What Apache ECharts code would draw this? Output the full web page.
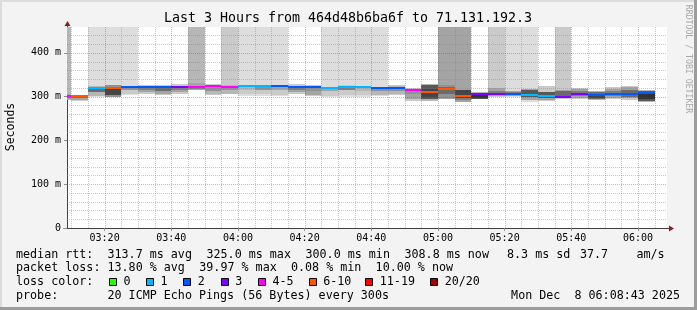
<!DOCTYPE html>
<html><head><meta charset="utf-8">
<script src="https://cdn.jsdelivr.net/npm/echarts@6/dist/echarts.min.js"></script>
<style>html,body{margin:0;padding:0;background:#f3f3f3;overflow:hidden}#c{width:697px;height:310px}</style>
</head><body><div id="c"></div>
<script>
// ---------- data ----------
const windowStart = "03:08:43";
const windowEnd   = "06:08:43";
const stepSeconds = 300;
const colTimes = ["03:05","03:10","03:15","03:20","03:25","03:30","03:35","03:40","03:45","03:50",
  "03:55","04:00","04:05","04:10","04:15","04:20","04:25","04:30","04:35","04:40",
  "04:45","04:50","04:55","05:00","05:05","05:10","05:15","05:20","05:25","05:30",
  "05:35","05:40","05:45","05:50","05:55","06:00"];
const medianMs = [301,301,320,320,321,323,321,323,323,325,
  323,324,324,325,321,321,320,322,321,319,
  319,314,311,318,302,306,306,307,304,302,
  300,307,303,307,306,309];
const lostPings = [4,7,1,6,2,2,2,3,4,5,
  4,1,1,2,2,2,1,1,1,2,
  2,4,6,7,8,3,3,2,1,1,
  3,3,2,2,2,2];
// smoke bands (ms); 480 = pings above the top of the graph; rank = smoke layer (1 outermost .. 10 innermost)
const outerLo = [293,289,300,299,304,307,303,307,314,304,305,301,301,301,307,301,300,300,300,301,304,290,291,295,287,294,299,299,288,291,295,295,292,295,293,288];
const outerHi = [480,302,480,480,480,327,327,328,480,328,480,480,480,480,328,326,480,480,480,480,327,320,328,480,480,311,480,480,480,325,480,320,313,321,325,316];
const outerRank = [3,2,1,1,1,2,2,2,3,2,2,1,1,1,2,2,1,1,1,1,2,2,3,4,4,3,2,1,1,2,2,2,3,2,2,3];
const midLo = [295,292,301,300,306,310,306,310,315,307,307,305,306,304,310,303,302,303,303,304,307,294,294,297,292,295,301,301,292,293,297,297,294,297,296,291];
const midHi = [306,300,325,326,325,324,324,325,330,326,326,326,326,326,324,323,322,326,323,322,324,318,326,327,316,309,319,312,318,311,316,317,310,318,322,313];
const midRank = [4,4,3,5,2,4,4,4,4,3,3,2,2,2,4,4,2,2,2,3,3,4,8,5,6,8,4,4,4,4,4,4,7,4,4,8];
const innerLo = [298,296,311,303,314,316,313,316,318,313,314,315,316,314,316,312,313,314,313,312,313,305,300,305,298,296,303,304,300,297,299,301,297,301,300,294];
const innerHi = [303,300,322,320,322,323,322,323,325,325,324,324,324,325,322,321,321,323,322,320,320,315,318,322,314,306,312,310,316,310,312,313,307,313,316,310];
const innerRank = [6,6,7,9,5,6,7,6,6,5,5,3,5,4,6,5,4,6,3,5,5,5,9,7,9,10,6,6,8,8,7,6,9,6,7,10];
const xLabelTimes = ["03:20","03:40","04:00","04:20","04:40","05:00","05:20","05:40","06:00"];
const yLabelValues = [0,100,200,300,400];
const lossLabels = ["0","1","2","3","4-5","6-10","11-19","20/20"];
const lossUpper  = [0,1,2,3,5,10,19,20];

// ---------- styles ----------
const lossColors = ['#26ff00','#00b8ff','#0059ff','#7e00ff','#ff00ff','#ff5500','#ff0000','#a10000'];
const MONO = "'DejaVu Sans Mono', monospace";
const Y_MAX = 459;

function toSec(s){const p=s.split(':').map(Number);return p[0]*3600+p[1]*60+(p[2]||0);}
function fmtHM(v){const h=Math.floor(v/3600),m=Math.round((v%3600)/60);return String(h).padStart(2,'0')+':'+String(m).padStart(2,'0');}
function lossColor(n){for(let i=0;i<lossUpper.length;i++){if(n<=lossUpper[i])return lossColors[i];}return lossColors[lossColors.length-1];}
function rankGray(r){const g=Math.round(190/10*(10-r)+50);return 'rgb('+g+','+g+','+g+')';}

const X0 = toSec(windowStart), X1 = toSec(windowEnd);
const colSecs = colTimes.map(toSec);
const xLabelSecs = xLabelTimes.map(toSec);

const smokeData = colSecs.map((t,i)=>[t, t+stepSeconds, outerLo[i], outerHi[i], outerRank[i], midLo[i], midHi[i], midRank[i], innerLo[i], innerHi[i], innerRank[i]]);
const medianData = colSecs.map((t,i)=>[t, t+stepSeconds, medianMs[i], lostPings[i]]);

// grid lines (5 min / 20 min, 20 ms / 100 ms)
const gridData = [];
for (let t = toSec("03:10"); t < X1; t += 300) gridData.push([0, t, (t % 1200 === 0) ? 1 : 0]);
for (let v = 20; v < Y_MAX; v += 20) gridData.push([1, v, (v % 100 === 0) ? 1 : 0]);

const chart = echarts.init(document.getElementById('c'), null, {renderer:'canvas', width:697, height:310});

function clampRect(cs, xa, xb, ya, yb){
  let l=Math.max(Math.round(Math.min(xa,xb)),cs.x), r=Math.min(Math.round(Math.max(xa,xb)),cs.x+cs.width);
  let t=Math.max(Math.round(Math.min(ya,yb)),cs.y), b=Math.min(Math.round(Math.max(ya,yb)),cs.y+cs.height);
  if(r<=l||b<=t) return null;
  return {x:l,y:t,width:r-l,height:b-t};
}

const option = {
  backgroundColor:'#f3f3f3',
  animation:false,
  grid:{left:67, top:27, width:600, height:201, show:true, backgroundColor:'#ffffff', borderWidth:0},
  xAxis:{type:'value', min:X0, max:X1,
    axisLine:{show:true, onZero:false, lineStyle:{color:'#404040', width:1}},
    axisTick:{show:true, length:3, customValues:xLabelSecs, lineStyle:{color:'#909090'}},
    axisLabel:{show:true, customValues:xLabelSecs, formatter:fmtHM, color:'#000', fontFamily:MONO, fontSize:10, margin:5},
    splitLine:{show:false}},
  yAxis:{type:'value', min:0, max:Y_MAX,
    axisLine:{show:true, onZero:false, lineStyle:{color:'#404040', width:1}},
    axisTick:{show:true, length:3, customValues:yLabelValues, lineStyle:{color:'#909090'}},
    axisLabel:{show:true, customValues:yLabelValues, formatter:v=>v===0?'0':(v+' m'), color:'#000', fontFamily:MONO, fontSize:10, margin:6},
    splitLine:{show:false}},
  series:[
    {type:'custom', z:1, silent:true, data:smokeData, renderItem:function(params, api){
      const cs=params.coordSys; const t0=api.value(0), t1=api.value(1); const kids=[];
      [2,5,8].forEach(k=>{
        const lo=api.value(k), hi=api.value(k+1), rank=api.value(k+2);
        const a=api.coord([t0,lo]), b=api.coord([t1,hi]);
        const sh=clampRect(cs,a[0],b[0],a[1],b[1]);
        if(sh) kids.push({type:'rect', shape:sh, style:{fill:rankGray(rank)}});
      });
      return {type:'group', children:kids};
    }},
    {type:'custom', z:2, silent:true, data:gridData, renderItem:function(params, api){
      const cs=params.coordSys; const o=api.value(0), v=api.value(1), major=api.value(2);
      const stroke = major ? 'rgba(255,0,0,0.36)' : 'rgba(128,128,128,0.42)';
      let shape;
      if(o===0){const x=Math.round(api.coord([v,0])[0])+0.5; shape={x1:x,y1:cs.y,x2:x,y2:cs.y+cs.height};}
      else {const y=Math.round(api.coord([X0,v])[1])+0.5; shape={x1:cs.x,y1:y,x2:cs.x+cs.width,y2:y};}
      return {type:'line', shape:shape, style:{stroke:stroke, lineWidth:1, lineDash:[1,1]}};
    }},
    {type:'custom', z:3, silent:true, data:medianData, renderItem:function(params, api){
      const cs=params.coordSys; const t0=api.value(0), t1=api.value(1), m=api.value(2), loss=api.value(3);
      const a=api.coord([t0,m]), b=api.coord([t1,m]); const y=Math.round(a[1]);
      const sh=clampRect(cs,a[0],b[0],y-1,y+1);
      if(!sh) return null;
      return {type:'rect', shape:sh, style:{fill:lossColor(loss)}};
    }}
  ]
};
chart.setOption(option);

// ---------- decorations & legend ----------
const tl = chart.convertToPixel({gridIndex:0},[X0,Y_MAX]);
const br = chart.convertToPixel({gridIndex:0},[X1,0]);
const gx0=Math.round(tl[0])+0.5, gy0=Math.round(tl[1]), gx1=Math.round(br[0]), gy1=Math.round(br[1])+0.5;
const ARROW='#8a1c1c';
function txt(text,x,y,size,opts){opts=opts||{};return {type:'text', x:x, y:y, rotation:opts.rot||0, silent:true,
  style:{text:text, font:size+'px '+MONO, fill:opts.fill||'#000', align:opts.align||'left', textAlign:opts.align||'left', verticalAlign:'middle', textVerticalAlign:'middle'}};}

const R1=254.5, R2=268.3, R3=282.2, R4=296;
const g = [
  {type:'rect', shape:{x:0,y:0,width:697,height:2}, style:{fill:'#dcdcdc'}, silent:true},
  {type:'rect', shape:{x:0,y:0,width:2,height:310}, style:{fill:'#dcdcdc'}, silent:true},
  {type:'rect', shape:{x:0,y:307,width:697,height:3}, style:{fill:'#9c9c9c'}, silent:true},
  {type:'rect', shape:{x:694,y:0,width:3,height:310}, style:{fill:'#9c9c9c'}, silent:true},
  // axis extensions and arrows
  {type:'line', shape:{x1:gx0,y1:gy0,x2:gx0,y2:gy0-3}, style:{stroke:'#404040',lineWidth:1}, silent:true},
  {type:'polygon', shape:{points:[[gx0-3,gy0-1],[gx0+3,gy0-1],[gx0,gy0-6]]}, style:{fill:ARROW}, silent:true},
  {type:'line', shape:{x1:gx0-4,y1:gy1,x2:gx0,y2:gy1}, style:{stroke:'#404040',lineWidth:1}, silent:true},
  {type:'line', shape:{x1:gx1,y1:gy1,x2:gx1+3,y2:gy1}, style:{stroke:'#404040',lineWidth:1}, silent:true},
  {type:'polygon', shape:{points:[[gx1+2,gy1-3],[gx1+2,gy1+3],[gx1+7,gy1]]}, style:{fill:ARROW}, silent:true},
  // title & side texts
  txt("Last 3 Hours from 464d48b6ba6f to 71.131.192.3", 348, 19, 13.3, {align:'center'}),
  txt("Seconds", 11, 127, 11.5, {align:'center', rot:Math.PI/2}),
  txt("RRDTOOL / TOBI OETIKER", 688, 59, 8.2, {align:'center', rot:-Math.PI/2, fill:'#a8a8a8'}),
  // legend rows
  txt("median rtt:",16,R1,11.7), txt("313.7 ms avg",107.5,R1,11.7), txt("325.0 ms max",206.5,R1,11.7),
  txt("300.0 ms min",305.5,R1,11.7), txt("308.8 ms now",404.5,R1,11.7), txt("8.3 ms sd",507,R1,11.7),
  txt("37.7",580,R1,11.7), txt("am/s",636.5,R1,11.7),
  txt("packet loss:",16,R2,11.7), txt("13.80 % avg",107.5,R2,11.7), txt("39.97 % max",199.3,R2,11.7),
  txt("0.08 % min",291,R2,11.7), txt("10.00 % now",375.6,R2,11.7),
  txt("loss color:",16,R3,11.7),
  txt("probe:",16,R4,11.7), txt("20 ICMP Echo Pings (56 Bytes) every 300s",107.5,R4,11.7),
  txt("Mon Dec  8 06:08:43 2025",680,R4,11.7,{align:'right'})
];
const boxX = [109,146,183.3,220.7,258,308.7,365.3,430.2];
lossLabels.forEach((lab,i)=>{
  g.push({type:'rect', shape:{x:Math.round(boxX[i])+0.5, y:Math.round(R3-4)+0.5, width:7, height:7}, style:{fill:lossColors[i], stroke:'#000', lineWidth:1}, silent:true});
  g.push(txt(lab, boxX[i]+14.5, R3, 11.7));
});
chart.setOption({graphic:g});
</script>
</body></html>
